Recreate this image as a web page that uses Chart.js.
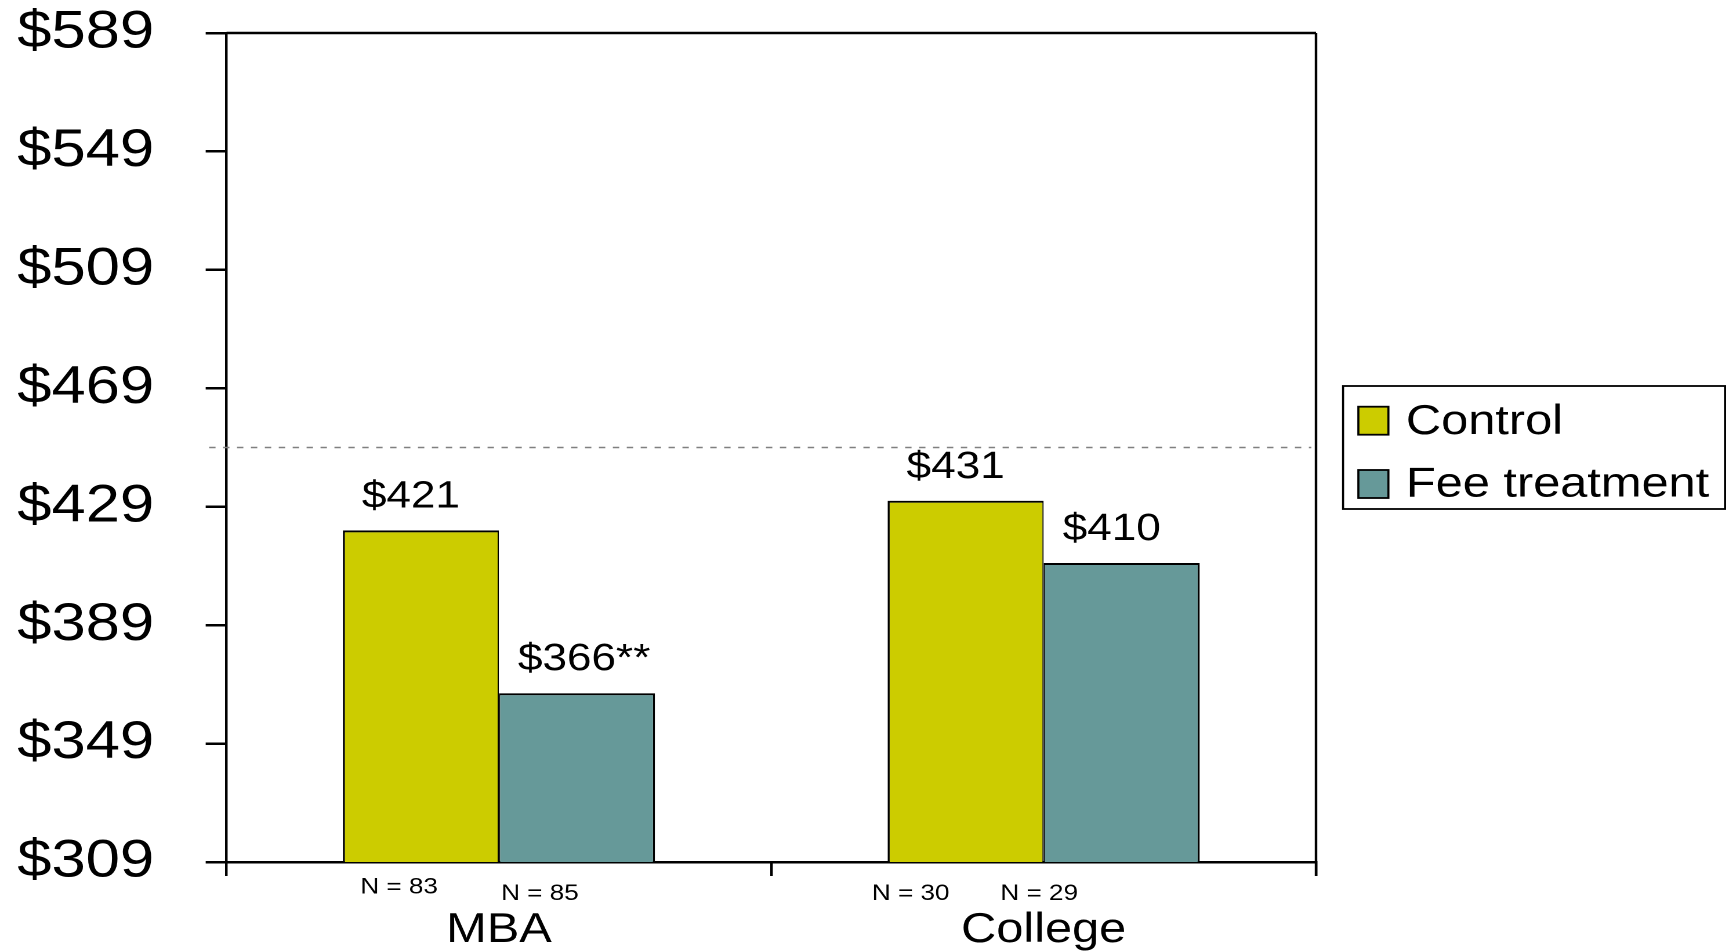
<!DOCTYPE html>
<html>
<head>
<meta charset="utf-8">
<title>Average amount by group</title>
<script src="https://cdn.jsdelivr.net/npm/chart.js@4.4.1/dist/chart.umd.min.js"></script>
<style>
  html, body { margin: 0; padding: 0; background: #ffffff; overflow: hidden; }
  /* The figure is laid out 1494px wide and widened to the 1733px page. */
  #wrap { position: absolute; left: 0; top: 0; width: 1494px; height: 952px;
          transform: scaleX(1.16); transform-origin: 0 0; }
</style>
</head>
<body>
<div id="wrap"><canvas id="chart"></canvas></div>
<script>
// ---- data ----
const categories = ['MBA', 'College'];
const seriesNames = ['Control', 'Fee treatment'];
const controlValues = [421, 431];
const feeValues = [366, 410];
const controlSampleSizes = [83, 30];
const feeSampleSizes = [85, 29];
const controlMarks = ['', ''];
const feeMarks = ['**', ''];
const yTickValues = [309, 349, 389, 429, 469, 509, 549, 589];
const referenceValue = 449;

// ---- styling ----
const FONT = '"Liberation Sans", Arial, Helvetica, sans-serif';
const CONTROL_COLOR = '#CCCC00';
const FEE_COLOR = '#669999';
const VALUE_SHIFT = 8.6;            // value labels sit a little left of bar centre
const VALUE_GAP = 23;               // baseline distance above bar top
const N_SHIFT = [[-18.8, -47.4], [-31.9, -71.1]];
const N_DROP = [[31.5, 38], [38, 38]];

// dashed reference line and the top/right frame of the plot
const framePlugin = {
  id: 'frame',
  beforeDatasetsDraw(chart) {
    const { ctx, chartArea: a, scales: { y } } = chart;
    const ry = y.getPixelForValue(referenceValue);
    ctx.save();
    ctx.strokeStyle = '#808080';
    ctx.lineWidth = 1.6;
    ctx.setLineDash([5.5, 6.5]);
    ctx.beginPath();
    ctx.moveTo(a.left - 15, ry);
    ctx.lineTo(a.right - 4, ry);
    ctx.stroke();
    ctx.restore();
  },
  afterDraw(chart) {
    const { ctx, chartArea: a } = chart;
    ctx.save();
    ctx.strokeStyle = '#000';
    ctx.lineWidth = 2.4;
    ctx.beginPath();
    ctx.moveTo(a.left, a.top);
    ctx.lineTo(a.right, a.top);
    ctx.stroke();
    ctx.lineWidth = 2.2;
    ctx.beginPath();
    ctx.moveTo(a.right, a.top);
    ctx.lineTo(a.right, a.bottom + 14);
    ctx.stroke();
    ctx.restore();
  }
};

// value labels above bars and sample sizes under them
const labelPlugin = {
  id: 'barLabels',
  afterDatasetsDraw(chart) {
    const { ctx, chartArea: a } = chart;
    ctx.save();
    ctx.fillStyle = '#000';
    chart.data.datasets.forEach((ds, di) => {
      const meta = chart.getDatasetMeta(di);
      meta.data.forEach((bar, i) => {
        const main = '$' + ds.data[i];
        ctx.font = `38px ${FONT}`;
        ctx.textAlign = 'left';
        ctx.textBaseline = 'alphabetic';
        const w = ctx.measureText(main).width;
        ctx.fillText(main + ds.marks[i], bar.x - VALUE_SHIFT - w / 2, bar.y - VALUE_GAP);

        ctx.font = `22.5px ${FONT}`;
        ctx.textAlign = 'center';
        ctx.fillText('N = ' + ds.sampleSizes[i], bar.x + N_SHIFT[di][i], a.bottom + N_DROP[di][i]);
      });
    });
    ctx.restore();
  }
};

// boxed legend to the right of the plot
const legendPlugin = {
  id: 'boxLegend',
  afterDraw(chart) {
    const { ctx, chartArea: a } = chart;
    const width = 329.3, height = 123;
    const left = a.right + 23.3;
    const top = (a.top + a.bottom) / 2 - height / 2;
    ctx.save();
    ctx.fillStyle = '#fff';
    ctx.fillRect(left, top, width, height);
    ctx.strokeStyle = '#000';
    ctx.lineWidth = 1.8;
    ctx.strokeRect(left, top, width, height);
    chart.data.datasets.forEach((ds, r) => {
      const sy = top + 20.7 + r * 63.3;
      ctx.fillStyle = ds.backgroundColor;
      ctx.fillRect(left + 13.2, sy, 25.9, 28);
      ctx.lineWidth = 1.8;
      ctx.strokeRect(left + 13.2, sy, 25.9, 28);
      ctx.fillStyle = '#000';
      ctx.font = `42px ${FONT}`;
      ctx.textAlign = 'left';
      ctx.textBaseline = 'alphabetic';
      ctx.fillText(ds.label, left + 54.2, top + 48 + r * 62.5);
    });
    ctx.restore();
  }
};

new Chart(document.getElementById('chart'), {
  type: 'bar',
  data: {
    labels: categories,
    datasets: [
      {
        label: seriesNames[0],
        data: controlValues,
        backgroundColor: CONTROL_COLOR,
        borderColor: '#000',
        borderWidth: { top: 2, left: 1.8, right: 1.1, bottom: 0 },
        borderSkipped: false,
        categoryPercentage: 0.573,
        barPercentage: 1,
        marks: controlMarks,
        sampleSizes: controlSampleSizes
      },
      {
        label: seriesNames[1],
        data: feeValues,
        backgroundColor: FEE_COLOR,
        borderColor: '#000',
        borderWidth: { top: 2, left: 1.1, right: 1.8, bottom: 0 },
        borderSkipped: false,
        categoryPercentage: 0.573,
        barPercentage: 1,
        marks: feeMarks,
        sampleSizes: feeSampleSizes
      }
    ]
  },
  options: {
    responsive: true,
    maintainAspectRatio: false,
    devicePixelRatio: 2,
    animation: false,
    events: [],
    layout: { padding: { top: 33, right: 359.5, bottom: 0, left: 0 } },
    plugins: {
      legend: { display: false },
      tooltip: { enabled: false }
    },
    scales: {
      x: {
        offset: true,
        grid: { offset: true, drawOnChartArea: false, drawTicks: true, tickLength: 14, color: '#000', lineWidth: 2.2 },
        border: { display: true, color: '#000', width: 2.5 },
        ticks: { font: { family: FONT, size: 42 }, color: '#000', padding: 29, maxRotation: 0, autoSkip: false },
        afterFit(s) { s.height = 90; }
      },
      y: {
        min: yTickValues[0],
        max: yTickValues[yTickValues.length - 1],
        afterBuildTicks(s) { s.ticks = yTickValues.map(v => ({ value: v })); },
        grid: { drawOnChartArea: false, drawTicks: true, tickLength: 18, color: '#000', lineWidth: 2.5 },
        border: { display: true, color: '#000', width: 2.2 },
        ticks: { font: { family: FONT, size: 53 }, color: '#000', padding: 44.5, callback: v => '$' + v },
        afterFit(s) {
          s.width = 195.3;
          s.paddingTop = 0;
          s.paddingBottom = 0;
        }
      }
    }
  },
  plugins: [framePlugin, labelPlugin, legendPlugin]
});
</script>
</body>
</html>
